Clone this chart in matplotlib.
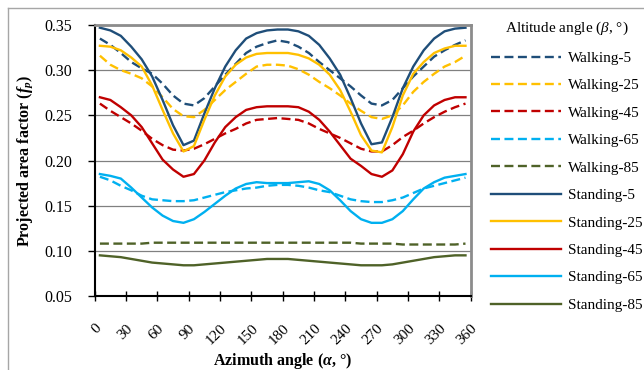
import matplotlib
matplotlib.use("Agg")
import matplotlib.pyplot as plt
from matplotlib.lines import Line2D

plt.rcParams['font.family'] = ['Liberation Serif', 'DejaVu Serif']
plt.rcParams['mathtext.fontset'] = 'custom'
plt.rcParams['mathtext.rm'] = 'Liberation Serif'
plt.rcParams['mathtext.it'] = 'Liberation Serif:italic'
plt.rcParams['mathtext.bf'] = 'Liberation Serif:bold'
plt.rcParams['mathtext.bfit'] = 'Liberation Serif:italic:bold'

# azimuth angles (deg)
azimuth = list(range(5, 360, 10))

walking_5 = [0.335, 0.328, 0.319, 0.309, 0.302, 0.296, 0.285, 0.272, 0.263, 0.261, 0.269, 0.282,
             0.295, 0.307, 0.319, 0.326, 0.330, 0.333, 0.331, 0.326, 0.319, 0.309, 0.300, 0.291,
             0.282, 0.272, 0.263, 0.261, 0.267, 0.280, 0.293, 0.304, 0.315, 0.322, 0.328, 0.333]
walking_25 = [0.316, 0.306, 0.300, 0.296, 0.291, 0.282, 0.270, 0.257, 0.249, 0.248, 0.256, 0.267,
              0.278, 0.287, 0.296, 0.304, 0.306, 0.306, 0.305, 0.301, 0.295, 0.287, 0.280, 0.272,
              0.263, 0.255, 0.248, 0.246, 0.250, 0.261, 0.276, 0.287, 0.296, 0.304, 0.309, 0.316]
walking_45 = [0.263, 0.255, 0.248, 0.241, 0.233, 0.224, 0.217, 0.212, 0.211, 0.213, 0.218, 0.224,
              0.230, 0.235, 0.241, 0.245, 0.246, 0.247, 0.246, 0.245, 0.241, 0.235, 0.230, 0.225,
              0.219, 0.213, 0.210, 0.210, 0.217, 0.226, 0.233, 0.241, 0.248, 0.254, 0.259, 0.263]
walking_65 = [0.182, 0.178, 0.172, 0.167, 0.161, 0.157, 0.156, 0.155, 0.155, 0.156, 0.159, 0.162,
              0.165, 0.167, 0.169, 0.170, 0.172, 0.173, 0.173, 0.172, 0.170, 0.167, 0.165, 0.161,
              0.157, 0.155, 0.154, 0.154, 0.156, 0.159, 0.164, 0.169, 0.172, 0.175, 0.178, 0.181]
walking_85 = [0.108, 0.108, 0.108, 0.108, 0.108, 0.109, 0.109, 0.109, 0.109, 0.109, 0.109, 0.109,
              0.109, 0.109, 0.109, 0.109, 0.109, 0.109, 0.109, 0.109, 0.109, 0.109, 0.109, 0.109,
              0.109, 0.108, 0.108, 0.108, 0.108, 0.107, 0.107, 0.107, 0.107, 0.107, 0.107, 0.108]
standing_5 = [0.347, 0.344, 0.338, 0.326, 0.312, 0.293, 0.267, 0.239, 0.217, 0.222, 0.252, 0.280,
              0.304, 0.322, 0.335, 0.341, 0.344, 0.345, 0.345, 0.343, 0.338, 0.328, 0.313, 0.295,
              0.269, 0.241, 0.218, 0.220, 0.248, 0.280, 0.304, 0.322, 0.335, 0.343, 0.346, 0.347]
standing_25 = [0.327, 0.326, 0.322, 0.314, 0.304, 0.283, 0.256, 0.230, 0.210, 0.216, 0.245, 0.272,
               0.293, 0.306, 0.314, 0.318, 0.319, 0.319, 0.319, 0.317, 0.313, 0.306, 0.295, 0.278,
               0.254, 0.228, 0.211, 0.209, 0.237, 0.272, 0.296, 0.309, 0.319, 0.324, 0.327, 0.327]
standing_45 = [0.270, 0.267, 0.259, 0.250, 0.237, 0.219, 0.201, 0.190, 0.182, 0.185, 0.200, 0.220,
               0.237, 0.248, 0.256, 0.259, 0.260, 0.260, 0.260, 0.259, 0.254, 0.245, 0.232, 0.217,
               0.202, 0.194, 0.185, 0.182, 0.189, 0.207, 0.232, 0.250, 0.261, 0.267, 0.270, 0.270]
standing_65 = [0.185, 0.183, 0.180, 0.170, 0.159, 0.148, 0.139, 0.133, 0.131, 0.135, 0.143, 0.152,
               0.161, 0.169, 0.174, 0.176, 0.175, 0.175, 0.175, 0.176, 0.177, 0.174, 0.167, 0.156,
               0.144, 0.135, 0.131, 0.131, 0.135, 0.144, 0.157, 0.169, 0.176, 0.181, 0.183, 0.185]
standing_85 = [0.095, 0.094, 0.093, 0.091, 0.089, 0.087, 0.086, 0.085, 0.084, 0.084, 0.085, 0.086,
               0.087, 0.088, 0.089, 0.090, 0.091, 0.091, 0.091, 0.090, 0.089, 0.088, 0.087, 0.086,
               0.085, 0.084, 0.084, 0.084, 0.085, 0.087, 0.089, 0.091, 0.093, 0.094, 0.095, 0.095]

colors = ['#1F4E79', '#FFC000', '#C00000', '#00B0F0', '#4F6228']
altitudes = [5, 25, 45, 65, 85]
walking = [walking_5, walking_25, walking_45, walking_65, walking_85]
standing = [standing_5, standing_25, standing_45, standing_65, standing_85]

fig = plt.figure(figsize=(6.44, 3.70), dpi=100)
ax = fig.add_axes([94.7 / 644, 1 - 296 / 370, 376 / 644, 271 / 370])

for vals, c, b in zip(walking, colors, altitudes):
    ax.plot(azimuth, vals, color=c, lw=1.7, dashes=(3.8, 1.9), label='Walking-%d' % b)
for vals, c, b in zip(standing, colors, altitudes):
    ax.plot(azimuth, vals, color=c, lw=1.7, label='Standing-%d' % b)

ax.set_xlim(0, 360)
ax.set_ylim(0.05, 0.35)
ax.set_xticks(range(0, 361, 30))
ax.set_yticks([0.05, 0.10, 0.15, 0.20, 0.25, 0.30, 0.35])
ax.set_yticklabels(['%.2f' % v for v in ax.get_yticks()])
ax.tick_params(axis='x', direction='inout', length=7, width=1, labelsize=11, rotation=45, pad=15)
ax.tick_params(axis='y', direction='out', length=5, width=1, labelsize=11.5, pad=11)
for lab in ax.get_xticklabels():
    lab.set_ha('right')
    lab.set_rotation_mode('anchor')
ax.grid(axis='y', color='#808080', lw=0.9)
ax.set_axisbelow(True)
for s in ['left', 'bottom']:
    ax.spines[s].set_color('black')
    ax.spines[s].set_linewidth(1.5)
for s in ['top', 'right']:
    ax.spines[s].set_color('#8C8C8C')
    ax.spines[s].set_linewidth(2)

ax.set_xlabel(r'Azimuth angle ($\mathbfit{\alpha}$, °)', fontsize=11.5, fontweight='bold', labelpad=3)
ax.set_ylabel(r'Projected area factor ($\mathbfit{f}_\mathbfit{p}$)', fontsize=11.5,
              fontweight='bold', labelpad=7)

leg = ax.legend(loc='upper left', bbox_to_anchor=(485 / 644, 1 - 14 / 370),
                bbox_transform=fig.transFigure, frameon=False, fontsize=11,
                title=r'Altitude angle ($\beta$, °)', title_fontsize=11,
                handlelength=4.6, handletextpad=0.45, labelspacing=0.9, borderaxespad=0)

# outer chart border
fig.add_artist(Line2D([8 / 644, 8 / 644], [0, 1 - 8 / 370], color='#A6A6A6', lw=1))
fig.add_artist(Line2D([8 / 644, 1], [1 - 8 / 370, 1 - 8 / 370], color='#A6A6A6', lw=1))

fig.savefig('out.png', dpi=100)
